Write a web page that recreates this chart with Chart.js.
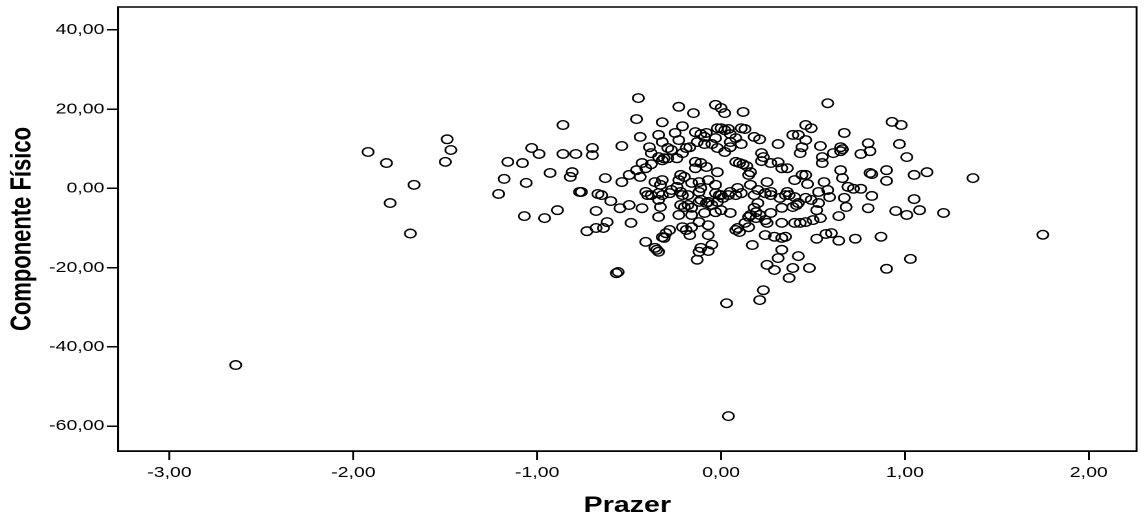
<!DOCTYPE html>
<html>
<head>
<meta charset="utf-8">
<script src="https://cdn.jsdelivr.net/npm/chart.js@4.4.0/dist/chart.umd.min.js"></script>
<style>
  html, body { margin: 0; padding: 0; background: #fff; }
</style>
</head>
<body>
<!-- the source picture is stretched sideways, so the canvas is too -->
<canvas id="chart" width="880" height="522" style="display:block;width:1144px;height:522px"></canvas>
<script>
const prazer = [
    -2.64, -1.92, -1.82, -1.67, -1.80, -1.69, -1.49, -1.47, -1.50, -1.21, -1.18, -1.16,
    -1.08, -1.07, -1.06, -1.03, -0.99, -0.96, -0.93, -0.89, -0.86, -0.86, -0.81, -0.82,
    -0.79, -0.77, -0.76, -0.73, -0.70, -0.70, -0.68, -0.68, -0.64, -0.67, -0.65, -0.63,
    -0.62, -0.60, -0.57, -0.56, -0.54, -0.54, -0.55, -0.50, -0.43, -0.49, -0.50, -0.45,
    -0.23, -0.15, -0.03, 0.00, 0.02, 0.12, -0.46, -0.32, -0.44, -0.39, -0.34, -0.32,
    -0.25, -0.23, -0.21, -0.14, -0.11, -0.09, -0.08, -0.03, -0.02, 0.00, 0.02, 0.04,
    0.11, 0.13, 0.05, 0.08, 0.18, 0.21, 0.31, 0.39, 0.46, -0.38, -0.29, -0.27,
    -0.19, -0.17, -0.13, -0.09, -0.21, -0.24, -0.32, -0.34, -0.31, -0.29, -0.05, -0.02,
    0.05, 0.05, 0.11, 0.02, -0.43, -0.38, -0.41, -0.46, -0.44, -0.36, -0.33, -0.32,
    -0.22, -0.20, -0.23, -0.16, -0.12, -0.14, -0.14, -0.11, -0.08, -0.02, -0.07, 0.08,
    0.10, 0.12, 0.14, 0.15, 0.16, 0.22, 0.23, 0.22, 0.27, 0.31, 0.33, 0.36,
    0.44, 0.40, 0.25, 0.16, -0.03, -0.27, -0.24, -0.22, -0.21, -0.38, -0.34, -0.32,
    -0.11, -0.12, 0.00, 0.05, 0.09, 0.11, 0.20, 0.24, 0.27, 0.35, 0.40, 0.46,
    0.36, -0.41, -0.40, 0.58, 0.93, 0.98, 0.49, 0.67, 0.46, 0.42, 0.54, 0.43,
    0.55, 0.55, 0.61, 0.65, 0.66, 0.65, 0.76, 0.80, 0.81, 0.97, 1.01, 0.90,
    0.90, 0.81, 0.82, 0.65, 0.66, 1.05, 1.12, 0.56, 0.44, 0.46, 0.47, 0.69,
    0.72, 0.76, 0.82, 1.05, 0.53, 0.58, 1.37, 1.21, 0.95, 1.01, 1.08, 0.80,
    0.68, 0.67, 0.59, 0.49, 0.53, 0.52, 0.54, 0.50, 0.46, 0.43, 0.64, 0.42,
    0.52, 0.57, 0.60, 0.64, 0.73, 0.87, 0.42, 0.48, 0.39, 1.03, 0.90, 1.75,
    -0.28, -0.34, -0.33, -0.34, -0.22, -0.20, -0.18, -0.16, -0.23, -0.16, -0.18, -0.12,
    -0.11, -0.08, -0.07, -0.05, -0.02, -0.09, -0.03, 0.00, 0.05, -0.12, -0.16, -0.07,
    -0.07, -0.05, -0.07, -0.11, -0.12, -0.13, -0.21, -0.19, -0.17, -0.28, -0.30, -0.31,
    -0.32, -0.41, -0.36, -0.34, -0.35, -0.03, -0.01, 0.01, 0.04, 0.08, 0.18, 0.20,
    0.18, 0.19, 0.15, 0.16, 0.19, 0.21, 0.13, 0.15, 0.09, 0.08, 0.10, 0.17,
    0.24, 0.25, 0.24, 0.27, 0.33, 0.27, 0.32, 0.37, 0.41, 0.39, 0.33, 0.40,
    0.29, 0.33, 0.35, 0.33, 0.31, 0.25, 0.29, 0.37, 0.23, 0.21, 0.03, 0.04
];

const componenteFisico = [
    -44.6, 9.2, 6.4, 0.9, -3.7, -11.4, 12.4, 9.7, 6.7, -1.4, 2.4, 6.7,
    6.4, -7.0, 1.4, 10.2, 8.7, -7.5, 3.9, -5.5, 16.0, 8.7, 4.1, 2.9,
    8.7, -0.9, -0.9, -10.8, 10.2, 8.4, -5.7, -10.0, -10.0, -1.4, -1.7, 2.6,
    -8.5, -3.2, -21.4, -21.1, 1.6, 10.7, -5.0, -4.2, -5.0, -8.7, 3.4, 22.8,
    20.6, 19.0, 21.1, 20.3, 19.0, 19.3, 17.5, 16.7, 13.0, 10.4, 13.5, 11.7,
    14.0, 12.2, 15.7, 14.2, 13.7, 13.0, 14.0, 12.7, 15.2, 15.2, 14.7, 15.0,
    15.2, 15.0, 13.7, 12.7, 13.0, 12.4, 11.2, 13.5, 16.0, 8.9, 10.2, 9.7,
    10.2, 10.4, 11.7, 11.2, 8.9, 7.6, 7.1, 7.9, 7.6, 7.6, 11.2, 10.2,
    11.7, 10.4, 11.2, 9.2, 6.4, 6.1, 5.1, 4.6, 2.9, 1.6, 0.9, 2.1,
    3.4, 2.9, 2.1, 1.4, 1.6, 5.1, 6.7, 6.4, 5.4, 4.1, 2.1, 6.7,
    6.4, 6.1, 5.6, 3.4, 4.1, 8.9, 7.9, 6.9, 6.4, 6.6, 5.1, 5.1,
    10.4, 2.1, 1.6, 0.9, 0.9, -0.4, 0.4, -0.9, -1.7, -1.7, -1.2, -1.7,
    0.1, -0.9, -1.7, -0.9, 0.1, -1.2, -0.4, -1.2, -0.9, -1.7, -2.2, -2.4,
    -0.9, -0.9, -1.7, 21.5, 16.8, 16.0, 15.2, 14.0, 12.2, 13.5, 10.7, 8.9,
    7.9, 6.4, 8.9, 10.4, 9.9, 9.4, 8.7, 11.4, 9.4, 11.2, 7.9, 4.6,
    1.9, 3.9, 3.6, 4.6, 2.6, 3.4, 4.1, 1.6, 3.4, 3.4, 1.1, 0.4,
    -0.1, -0.1, -1.9, -2.7, -0.9, -0.4, 2.6, -6.2, -5.7, -6.7, -5.5, -5.0,
    -4.7, -2.4, -2.2, -2.9, -3.7, -5.5, -7.5, -8.0, -8.5, -8.7, -7.0, -3.7,
    -12.7, -11.5, -11.3, -13.2, -12.7, -12.2, -17.1, -20.1, -20.1, -17.8, -20.3, -11.7,
    -1.2, -2.9, -4.7, -7.2, -4.2, -4.7, -4.2, -4.9, -6.7, -6.7, -1.7, -3.4,
    -2.9, -3.7, -3.4, -4.2, -3.4, -6.2, -6.0, -5.5, -6.2, -8.5, -9.8, -11.8,
    -9.3, -14.2, -15.8, -15.0, -16.0, -18.0, -9.8, -10.5, -11.8, -10.5, -11.3, -12.5,
    -12.3, -13.5, -15.0, -16.0, -15.5, -1.2, -1.7, -2.4, -1.7, -1.7, -1.7, -3.7,
    -4.9, -6.0, -7.2, -6.7, -7.5, -6.7, -8.7, -9.8, -10.0, -10.5, -11.0, -14.3,
    -11.8, -8.7, -8.0, -6.2, -4.9, -1.7, -2.4, -1.7, -4.2, -4.7, -8.7, -8.7,
    -12.2, -12.5, -12.2, -15.5, -17.6, -19.3, -20.6, -22.6, -25.7, -28.2, -29.0, -57.5
];

const xTicks = [-3, -2, -1, 0, 1, 2];
const yTicks = [-60, -40, -20, 0, 20, 40];

const fmt = (v) => Number(v).toFixed(2).replace(".", ",");

const points = prazer.map((x, i) => ({ x: x, y: componenteFisico[i] }));

// box round the plot area
const frame = {
    id: "frame",
    afterDraw(chart) {
        const { ctx, chartArea } = chart;
        ctx.save();
        ctx.strokeStyle = "#000";
        ctx.lineWidth = 1.5;
        ctx.strokeRect(chartArea.left, chartArea.top,
            chartArea.right - chartArea.left, chartArea.bottom - chartArea.top);
        ctx.restore();
    },
};

const tickFont = { family: "'Liberation Sans', Arial, sans-serif", size: 15 };
const titleFont = { family: "'Liberation Sans', Arial, sans-serif", size: 22, weight: "bold" };

let myChart = new Chart(document.getElementById("chart"), {
    type: "scatter",
    plugins: [frame],
    data: {
        datasets: [
            {
                data: points,
                pointStyle: "circle",
                pointRadius: 4.3,
                pointBorderWidth: 1.4,
                borderColor: "#000",
                backgroundColor: "rgba(0,0,0,0)",
            },
        ],
    },
    options: {
        responsive: false,
        devicePixelRatio: 2,
        animation: false,
        layout: { padding: { top: 7, right: 2.3, left: 0, bottom: 0 } },
        plugins: {
            legend: { display: false },
            tooltip: { enabled: false },
        },
        scales: {
            x: {
                type: "linear",
                min: -3.28,
                max: 2.26,
                afterBuildTicks: (s) => { s.ticks = xTicks.map((v) => ({ value: v })); },
                afterFit: (s) => {
                    s.height = 71;
                    s.paddingLeft = 0;
                    s.paddingRight = 0;
                },
                ticks: { callback: fmt, color: "#000", font: tickFont, padding: 4, maxRotation: 0, autoSkip: false },
                grid: { drawOnChartArea: false, drawTicks: true, tickLength: 9, color: "#000", lineWidth: 1.5 },
                border: { color: "#000", width: 1.5 },
                title: { display: true, text: "Prazer", color: "#000", font: titleFont, padding: { top: 0, bottom: 3 } },
            },
            y: {
                type: "linear",
                min: -66.3,
                max: 45.8,
                afterBuildTicks: (s) => { s.ticks = yTicks.map((v) => ({ value: v })); },
                afterFit: (s) => {
                    s.width = 90.8;
                    s.paddingTop = 0;
                    s.paddingBottom = 0;
                },
                ticks: { callback: fmt, color: "#000", font: tickFont, padding: 2, autoSkip: false },
                grid: { drawOnChartArea: false, drawTicks: true, tickLength: 8.5, color: "#000", lineWidth: 1.5 },
                border: { color: "#000", width: 1.5 },
                title: { display: true, text: "Componente Físico", color: "#000", font: titleFont, padding: { top: 4, bottom: 0 } },
            },
        },
    },
});
</script>
</body>
</html>
